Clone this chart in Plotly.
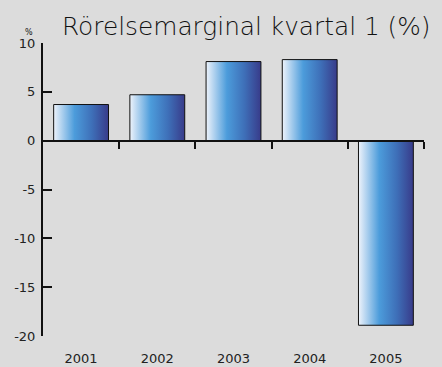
import plotly.graph_objects as go

years = ["2001", "2002", "2003", "2004", "2005"]
values = [3.7, 4.7, 8.1, 8.3, -18.9]
y_ticks = [10, 5, 0, -5, -10, -15, -20]
title_text = "Rörelsemarginal kvartal 1 (%)"
unit_text = "%"

BAR_W = 0.72
Y_RANGE = [-20, 10]
GRAD = [[0.0, "#eef3fb"], [0.38, "#4c9cdb"], [0.7, "#3e6fb8"], [1.0, "#383b8a"]]

fig = go.Figure()
for i, v in enumerate(values):
    x0, x1 = i - BAR_W / 2, i + BAR_W / 2
    fig.add_trace(go.Scatter(
        x=[x0, x0, x1, x1, x0], y=[0, v, v, 0, 0],
        mode="lines", fill="toself",
        fillgradient=dict(type="horizontal", colorscale=GRAD),
        line=dict(color="#111111", width=1),
        hoverinfo="skip", showlegend=False,
    ))

# dummy trace for boundary-tick axis
fig.add_trace(go.Scatter(x=[-0.5], y=[0], xaxis="x2", mode="markers",
                         marker=dict(opacity=0), showlegend=False, hoverinfo="skip"))

ydom = [0, 1]
zero_pos = ydom[0] + (0 - Y_RANGE[0]) / (Y_RANGE[1] - Y_RANGE[0]) * (ydom[1] - ydom[0])

W, H = 442, 367
ML, MR, MT, MB = 43, 18, 43, 31
font_family = "DejaVu Sans, sans-serif"
fig.update_layout(
    width=W, height=H,
    margin=dict(l=ML, r=MR, t=MT, b=MB, autoexpand=False),
    paper_bgcolor="#dcdcdc", plot_bgcolor="rgba(0,0,0,0)",
    font=dict(family=font_family, color="#222222", size=13),
    xaxis=dict(range=[-0.5, len(years) - 0.5], tickvals=list(range(len(years))),
               ticktext=years, showline=False, showgrid=False, zeroline=False,
               ticks="", ticklabelstandoff=13, tickfont=dict(size=13), automargin=False),
    xaxis2=dict(range=[-0.5, len(years) - 0.5], overlaying="x", anchor="free",
                position=zero_pos, showline=True, linecolor="#111111", linewidth=2,
                tickvals=[i + 0.5 for i in range(len(years))], ticks="outside",
                ticklen=7, tickwidth=2, tickcolor="#111111", showticklabels=False,
                showgrid=False, zeroline=False, automargin=False),
    yaxis=dict(range=Y_RANGE, tickvals=y_ticks, ticktext=[str(t) for t in y_ticks],
               showline=True, linecolor="#111111",
               linewidth=2, ticks="inside", ticklen=9, tickwidth=2, tickcolor="#111111",
               showgrid=False, zeroline=False, tickfont=dict(size=13),
               ticklabelstandoff=3, automargin=False),
)
pw, ph = W - ML - MR, H - MT - MB
def px_x(px): return (px - ML) / pw
def px_y(py): return (H - MB - py) / ph
fig.add_annotation(text=title_text, x=px_x(60), y=px_y(26), xref="paper", yref="paper",
                   xanchor="left", yanchor="middle", showarrow=False,
                   font=dict(size=24.8, family=font_family, color="#111111", weight=300))
fig.add_annotation(text=unit_text, x=px_x(29), y=px_y(32), xref="paper", yref="paper",
                   xanchor="center", yanchor="middle", showarrow=False,
                   font=dict(size=8, family=font_family, color="#111111"))

fig.write_html("out.html")
